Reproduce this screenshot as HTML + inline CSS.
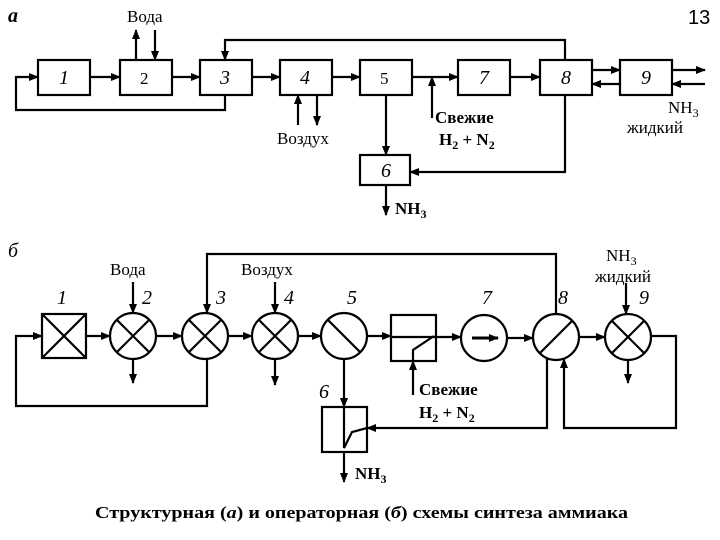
<!DOCTYPE html>
<html><head><meta charset="utf-8"><style>
html,body{margin:0;padding:0;background:#fff}
svg{display:block}
text{font-family:"Liberation Serif","DejaVu Serif",serif;fill:#000}
.n{font-style:italic;font-size:20px}
.l{font-size:17px}
.b{font-size:17px;font-weight:bold}
</style></head><body>
<svg width="720" height="540" viewBox="0 0 720 540" xmlns="http://www.w3.org/2000/svg">
<defs><marker id="a" markerWidth="10" markerHeight="8" refX="9" refY="4" orient="auto" markerUnits="userSpaceOnUse"><path d="M0,0 L10,4 L0,8 z" fill="#000"/></marker></defs>
<g stroke="#000" stroke-width="2.2" fill="none">
<rect x="38" y="60" width="52" height="35"/>
<rect x="120" y="60" width="52" height="35"/>
<rect x="200" y="60" width="52" height="35"/>
<rect x="280" y="60" width="52" height="35"/>
<rect x="360" y="60" width="52" height="35"/>
<rect x="458" y="60" width="52" height="35"/>
<rect x="540" y="60" width="52" height="35"/>
<rect x="620" y="60" width="52" height="35"/>
<rect x="360" y="155" width="50" height="30"/>
<g marker-end="url(#a)">
<line x1="90" y1="77" x2="120" y2="77"/>
<line x1="172" y1="77" x2="200" y2="77"/>
<line x1="252" y1="77" x2="280" y2="77"/>
<line x1="332" y1="77" x2="360" y2="77"/>
<line x1="412" y1="77" x2="458" y2="77"/>
<line x1="510" y1="77" x2="540" y2="77"/>
<line x1="592" y1="70" x2="620" y2="70"/>
<line x1="620" y1="84" x2="592" y2="84"/>
<line x1="672" y1="70" x2="705" y2="70"/>
<line x1="705" y1="84" x2="672" y2="84"/>
<polyline points="565,60 565,40 225,40 225,60"/>
<polyline points="225,95 225,110 16,110 16,77 38,77"/>
<line x1="136" y1="60" x2="136" y2="30"/>
<line x1="155" y1="30" x2="155" y2="60"/>
<line x1="298" y1="125" x2="298" y2="95"/>
<line x1="317" y1="95" x2="317" y2="125"/>
<line x1="386" y1="95" x2="386" y2="155"/>
<line x1="432" y1="118" x2="432" y2="77"/>
<polyline points="565,95 565,172 410,172"/>
<line x1="386" y1="185" x2="386" y2="215"/>
</g>
<rect x="42" y="314" width="44" height="44"/>
<line x1="42" y1="314" x2="86" y2="358"/><line x1="86" y1="314" x2="42" y2="358"/>
<ellipse cx="133" cy="336" rx="23" ry="23"/>
<line x1="117" y1="320" x2="149" y2="352"/><line x1="149" y1="320" x2="117" y2="352"/>
<ellipse cx="205" cy="336" rx="23" ry="23"/>
<line x1="189" y1="320" x2="221" y2="352"/><line x1="221" y1="320" x2="189" y2="352"/>
<ellipse cx="275" cy="336" rx="23" ry="23"/>
<line x1="259" y1="320" x2="291" y2="352"/><line x1="291" y1="320" x2="259" y2="352"/>
<ellipse cx="344" cy="336" rx="23" ry="23"/>
<line x1="328" y1="320" x2="360" y2="352"/>
<rect x="391" y="315" width="45" height="46"/>
<line x1="391" y1="337" x2="436" y2="337"/>
<polyline points="413,361 413,350 434,336"/>
<ellipse cx="484" cy="338" rx="23" ry="23"/>
<ellipse cx="556" cy="337" rx="23" ry="23"/>
<line x1="540" y1="353" x2="572" y2="321"/>
<ellipse cx="628" cy="337" rx="23" ry="23"/>
<line x1="612" y1="321" x2="644" y2="353"/><line x1="644" y1="321" x2="612" y2="353"/>
<rect x="322" y="407" width="45" height="45"/>
<polyline points="344,407 344,448 352,432 367,428"/>
<g marker-end="url(#a)">
<line x1="86" y1="336" x2="110" y2="336"/>
<line x1="156" y1="336" x2="182" y2="336"/>
<line x1="228" y1="336" x2="252" y2="336"/>
<line x1="298" y1="336" x2="321" y2="336"/>
<line x1="367" y1="336" x2="391" y2="336"/>
<line x1="436" y1="337" x2="461" y2="337"/>
<line x1="472" y1="338" x2="498" y2="338" stroke-width="3"/>
<line x1="507" y1="338" x2="533" y2="338"/>
<line x1="579" y1="337" x2="605" y2="337"/>
<polyline points="556,314 556,254 207,254 207,313"/>
<polyline points="207,359 207,406 16,406 16,336 42,336"/>
<line x1="133" y1="282" x2="133" y2="313"/>
<line x1="275" y1="282" x2="275" y2="313"/>
<line x1="626" y1="283" x2="626" y2="314"/>
<line x1="133" y1="359" x2="133" y2="383"/>
<line x1="275" y1="359" x2="275" y2="385"/>
<line x1="628" y1="360" x2="628" y2="383"/>
<line x1="344" y1="359" x2="344" y2="407"/>
<line x1="413" y1="395" x2="413" y2="361"/>
<polyline points="547,358 547,428 367,428"/>
<polyline points="651,336 676,336 676,428 564,428 564,359"/>
<line x1="344" y1="452" x2="344" y2="482"/>
</g>
</g>
<text x="8" y="22" class="n" font-weight="bold">а</text>
<text x="688" y="24" style="font-family:'Liberation Sans',sans-serif;font-size:20px">13</text>
<text x="127" y="22" class="l">Вода</text>
<text x="59" y="84" class="n">1</text>
<text x="140" y="84" class="l" font-size="19">2</text>
<text x="220" y="84" class="n">3</text>
<text x="300" y="84" class="n">4</text>
<text x="380" y="84" class="l" font-size="19">5</text>
<text x="479" y="84" class="n">7</text>
<text x="561" y="84" class="n">8</text>
<text x="641" y="84" class="n">9</text>
<text x="381" y="177" class="n">6</text>
<text x="277" y="144" class="l">Воздух</text>
<text x="435" y="123" class="b">Свежие</text>
<text x="439" y="145" class="b">H<tspan font-size="12" dy="4">2</tspan><tspan dy="-4"> + N</tspan><tspan font-size="12" dy="4">2</tspan></text>
<text x="395" y="214" class="b">NH<tspan font-size="12" dy="4">3</tspan></text>
<text x="668" y="113" class="l">NH<tspan font-size="12" dy="4">3</tspan></text>
<text x="627" y="133" class="l">жидкий</text>
<text x="8" y="257" class="n">б</text>
<text x="110" y="275" class="l">Вода</text>
<text x="241" y="275" class="l">Воздух</text>
<text x="606" y="261" class="l">NH<tspan font-size="12" dy="4">3</tspan></text>
<text x="595" y="282" class="l">жидкий</text>
<text x="57" y="304" class="n">1</text>
<text x="142" y="304" class="n">2</text>
<text x="216" y="304" class="n">3</text>
<text x="284" y="304" class="n">4</text>
<text x="347" y="304" class="n">5</text>
<text x="482" y="304" class="n">7</text>
<text x="558" y="304" class="n">8</text>
<text x="639" y="304" class="n">9</text>
<text x="319" y="398" class="n">6</text>
<text x="419" y="395" class="b">Свежие</text>
<text x="419" y="418" class="b">H<tspan font-size="12" dy="4">2</tspan><tspan dy="-4"> + N</tspan><tspan font-size="12" dy="4">2</tspan></text>
<text x="355" y="479" class="b">NH<tspan font-size="12" dy="4">3</tspan></text>
<text x="95" y="518" class="b" font-size="18" textLength="533" lengthAdjust="spacingAndGlyphs">Структурная (<tspan font-style="italic">а</tspan>) и операторная (<tspan font-style="italic">б</tspan>) схемы синтеза аммиака</text>
</svg>
</body></html>
